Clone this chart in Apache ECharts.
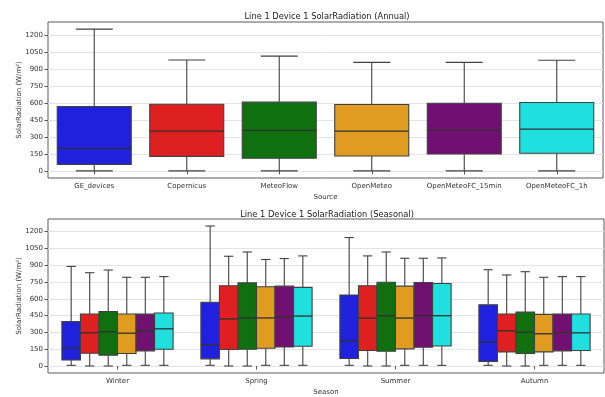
<!DOCTYPE html>
<html>
<head>
<meta charset="utf-8">
<script src="https://cdn.jsdelivr.net/npm/echarts@6/dist/echarts.min.js"></script>
<style>
  html, body { margin: 0; padding: 0; background: #fff; }
  #chart { width: 605px; height: 397px; }
</style>
</head>
<body>
<div id="chart"></div>
<script>
// Box statistics are [lower whisker, Q1, median, Q3, upper whisker] in W/m²
const sources = ['GE_devices', 'Copernicus', 'MeteoFlow', 'OpenMeteo', 'OpenMeteoFC_15min', 'OpenMeteoFC_1h'];
const seasons = ['Winter', 'Spring', 'Summer', 'Autumn'];
const sourceColors = ['#2020df', '#df2020', '#107010', '#df9c20', '#701070', '#20dfdf'];

const annualStats = [
  [0, 58, 198, 567, 1250],
  [0, 128, 351, 588, 977],
  [0, 111, 357, 606, 1012],
  [0, 132, 351, 585, 957],
  [0, 149, 360, 597, 957],
  [0, 155, 369, 603, 975]
];

// one list per source, in season order
const seasonalGE = [[6, 53, 161, 396, 889], [6, 64, 191, 569, 1250], [6, 67, 226, 634, 1147], [6, 41, 214, 546, 860]];
const seasonalCopernicus = [[0, 114, 296, 464, 833], [0, 147, 420, 716, 980], [0, 138, 428, 716, 983], [0, 126, 314, 464, 813]];
const seasonalMeteoFlow = [[0, 97, 305, 487, 857], [0, 150, 429, 742, 1018], [0, 132, 449, 748, 1018], [0, 111, 302, 481, 842]];
const seasonalOpenMeteo = [[6, 111, 293, 464, 792], [6, 158, 429, 707, 951], [6, 153, 428, 713, 962], [6, 126, 288, 461, 792]];
const seasonalFC15 = [[6, 135, 314, 464, 792], [6, 170, 437, 713, 959], [6, 167, 449, 745, 962], [6, 135, 299, 464, 798]];
const seasonalFC1h = [[6, 150, 332, 473, 798], [6, 176, 446, 702, 983], [6, 179, 449, 736, 965], [6, 138, 296, 464, 798]];
const seasonalBySource = [seasonalGE, seasonalCopernicus, seasonalMeteoFlow, seasonalOpenMeteo, seasonalFC15, seasonalFC1h];

const yTicks = [0, 150, 300, 450, 600, 750, 900, 1050, 1200];
const yMin = -62.5, yMax = 1312.5;

const FONT = 'DejaVu Sans';
const LINE = '#404040';

// Draws one box with whiskers; slot/slots place it side by side inside the category band
function boxRenderer(slot, slots, color) {
  return function (params, api) {
    const cat = api.value(0);
    const lo = api.coord([cat, api.value(1)]);
    const q1 = api.coord([cat, api.value(2)]);
    const med = api.coord([cat, api.value(3)]);
    const q3 = api.coord([cat, api.value(4)]);
    const hi = api.coord([cat, api.value(5)]);
    const band = api.size([1, 0])[0];
    const w = band * 0.8 / slots;
    const cx = lo[0] + (slot - (slots - 1) / 2) * w;
    const x0 = cx - w / 2, x1 = cx + w / 2;
    const cap = w / 4;
    const ls = { stroke: LINE, lineWidth: 1.1 };
    return {
      type: 'group',
      children: [
        { type: 'line', shape: { x1: cx, y1: q1[1], x2: cx, y2: lo[1] }, style: ls },
        { type: 'line', shape: { x1: cx, y1: q3[1], x2: cx, y2: hi[1] }, style: ls },
        { type: 'line', shape: { x1: cx - cap, y1: lo[1], x2: cx + cap, y2: lo[1] }, style: ls },
        { type: 'line', shape: { x1: cx - cap, y1: hi[1], x2: cx + cap, y2: hi[1] }, style: ls },
        { type: 'rect', shape: { x: x0, y: q3[1], width: w, height: q1[1] - q3[1] },
          style: { fill: color, stroke: LINE, lineWidth: 1.1 } },
        { type: 'line', shape: { x1: x0, y1: med[1], x2: x1, y2: med[1] }, style: { stroke: '#303030', lineWidth: 1.3 } }
      ]
    };
  };
}

function yAxisFor(gridIndex) {
  return {
    type: 'value', gridIndex: gridIndex, min: yMin, max: yMax,
    name: 'SolarRadiation (W/m²)', nameLocation: 'middle', nameGap: 25, nameMoveOverlap: false,
    nameTextStyle: { fontFamily: FONT, fontSize: 7, color: '#333' },
    axisLine: { show: false },
    axisTick: { show: true, length: 3.5, customValues: yTicks, lineStyle: { color: '#555' } },
    axisLabel: { customValues: yTicks, fontFamily: FONT, fontSize: 7, color: '#333', margin: 5,
      formatter: function (v) { return String(v); } },
    splitLine: { show: true, lineStyle: { color: '#e4e4e4', width: 1 } }
  };
}

function xAxisFor(gridIndex, cats, name) {
  return {
    type: 'category', gridIndex: gridIndex, data: cats,
    name: name, nameLocation: 'middle', nameGap: 16, nameMoveOverlap: false,
    nameTextStyle: { fontFamily: FONT, fontSize: 7, color: '#333' },
    axisLine: { show: false },
    axisTick: { show: true, alignWithLabel: true, length: 3.5, lineStyle: { color: '#555' } },
    axisLabel: { fontFamily: FONT, fontSize: 7, color: '#333', margin: 5, interval: 0 },
    splitLine: { show: false }
  };
}

const series = [];
// annual: one box per source
sources.forEach(function (src, i) {
  series.push({
    type: 'custom', name: src, xAxisIndex: 0, yAxisIndex: 0,
    renderItem: boxRenderer(0, 1, sourceColors[i]),
    encode: { x: 0, y: [1, 2, 3, 4, 5] },
    data: [[i].concat(annualStats[i])],
    z: 3
  });
});
// seasonal: six boxes dodged within each season
seasonalBySource.forEach(function (stats, s) {
  series.push({
    type: 'custom', name: sources[s], xAxisIndex: 1, yAxisIndex: 1,
    renderItem: boxRenderer(s, sources.length, sourceColors[s]),
    encode: { x: 0, y: [1, 2, 3, 4, 5] },
    data: stats.map(function (v, k) { return [k].concat(v); }),
    z: 3
  });
});

const chart = echarts.init(document.getElementById('chart'), null, { renderer: 'canvas' });
chart.setOption({
  animation: false,
  backgroundColor: '#ffffff',
  title: [
    { text: 'Line 1 Device 1 SolarRadiation (Annual)', left: 322, textAlign: 'center', top: 8,
      textStyle: { fontFamily: FONT, fontSize: 8.3, fontWeight: 'normal', color: '#222' } },
    { text: 'Line 1 Device 1 SolarRadiation (Seasonal)', left: 322, textAlign: 'center', top: 206,
      textStyle: { fontFamily: FONT, fontSize: 8.3, fontWeight: 'normal', color: '#222' } }
  ],
  grid: [
    { left: 48, right: 2, top: 22, bottom: 219, show: true, borderColor: '#5a5a5a', borderWidth: 1, backgroundColor: 'transparent' },
    { left: 48, right: 1, top: 219, bottom: 21, show: true, borderColor: '#5a5a5a', borderWidth: 1, backgroundColor: 'transparent' }
  ],
  xAxis: [xAxisFor(0, sources, 'Source'), xAxisFor(1, seasons, 'Season')],
  yAxis: [yAxisFor(0), yAxisFor(1)],
  series: series
});
</script>
</body>
</html>
